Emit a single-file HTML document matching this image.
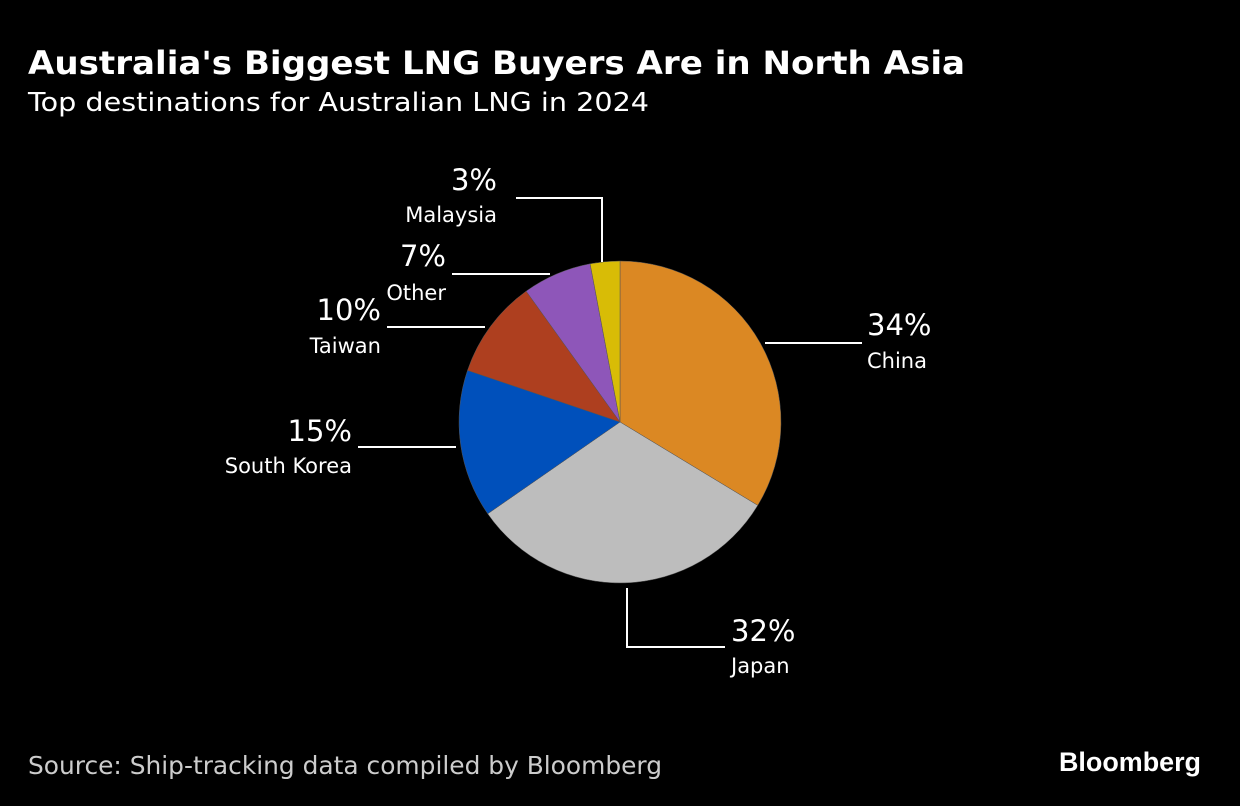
<!DOCTYPE html>
<html><head><meta charset="utf-8"><style>
html,body{margin:0;padding:0;background:#000;width:1240px;height:806px;overflow:hidden}
svg{display:block}
text{font-family:"DejaVu Sans","Liberation Sans",sans-serif;fill:#fff}
</style></head><body>
<svg id="chart" width="1240" height="806" viewBox="0 0 1240 806">
<text x="28" y="74" font-size="32" font-weight="bold" textLength="937" lengthAdjust="spacingAndGlyphs">Australia's Biggest LNG Buyers Are in North Asia</text>
<text x="28" y="111" font-size="26" textLength="621" lengthAdjust="spacingAndGlyphs">Top destinations for Australian LNG in 2024</text>
<g id="slices"></g>
<g id="labels"></g>
<text x="28" y="774" font-size="25" fill="#cccccc" style="fill:#cccccc" textLength="634" lengthAdjust="spacingAndGlyphs">Source: Ship-tracking data compiled by Bloomberg</text>
<text x="1059" y="771" font-size="27" font-weight="bold" font-family="Liberation Sans" textLength="142" lengthAdjust="spacingAndGlyphs" style="font-family:'Liberation Sans',sans-serif">Bloomberg</text>
</svg>
<script>
const categories=["China","Japan","South Korea","Taiwan","Other","Malaysia"];
const values=[34,32,15,10,7,3];
const colors=["#db8823","#bdbdbd","#0050bb","#ae3f1f","#8e56b9","#d8bc06"];
// label layout: [leader points..., text anchor x, pct baseline, name baseline, anchor]
const labelLayout=[
 {pts:[[765,343],[862,343]],tx:867,py:335,ny:368,a:"start"},
 {pts:[[627,588],[627,647],[725,647]],tx:731,py:641,ny:673,a:"start"},
 {pts:[[456,447],[358,447]],tx:352,py:441,ny:473,a:"end"},
 {pts:[[485,327],[387,327]],tx:381,py:320,ny:353,a:"end"},
 {pts:[[550,274],[452,274]],tx:446,py:266,ny:300,a:"end"},
 {pts:[[602,262],[602,198],[516,198]],tx:497,py:190,ny:222,a:"end"}
];
const NS="http://www.w3.org/2000/svg";
const cx=620,cy=422,r=161;
const total=values.reduce((a,b)=>a+b,0);
function pt(f){const a=f*2*Math.PI;return [cx+r*Math.sin(a),cy-r*Math.cos(a)];}
let acc=0;
const sg=document.getElementById('slices'),lg=document.getElementById('labels');
values.forEach((v,i)=>{
 const f0=acc/total,f1=(acc+v)/total;acc+=v;
 const p0=pt(f0),p1=pt(f1),large=(f1-f0)>0.5?1:0;
 const p=document.createElementNS(NS,'path');
 p.setAttribute('d',`M${cx},${cy}L${p0[0]},${p0[1]}A${r},${r} 0 ${large} 1 ${p1[0]},${p1[1]}Z`);
 p.setAttribute('fill',colors[i]);
 p.setAttribute('stroke','#555');p.setAttribute('stroke-width','0.5');
 
 
 sg.appendChild(p);
 const L=labelLayout[i];
 const pl=document.createElementNS(NS,'polyline');
 pl.setAttribute('points',L.pts.map(q=>q.join(',')).join(' '));
 pl.setAttribute('fill','none');pl.setAttribute('stroke','#fff');pl.setAttribute('stroke-width','2');
 
 
 lg.appendChild(pl);
 const t1=document.createElementNS(NS,'text');
 t1.setAttribute('x',L.tx);t1.setAttribute('y',L.py);t1.setAttribute('font-size','29');t1.setAttribute('text-anchor',L.a);
 t1.textContent=v+'%';
 
 
 lg.appendChild(t1);
 const t2=document.createElementNS(NS,'text');
 t2.setAttribute('x',L.tx);t2.setAttribute('y',L.ny);t2.setAttribute('font-size','21');t2.setAttribute('text-anchor',L.a);
 t2.textContent=categories[i];
 
 
 lg.appendChild(t2);
});
</script>
</body></html>
